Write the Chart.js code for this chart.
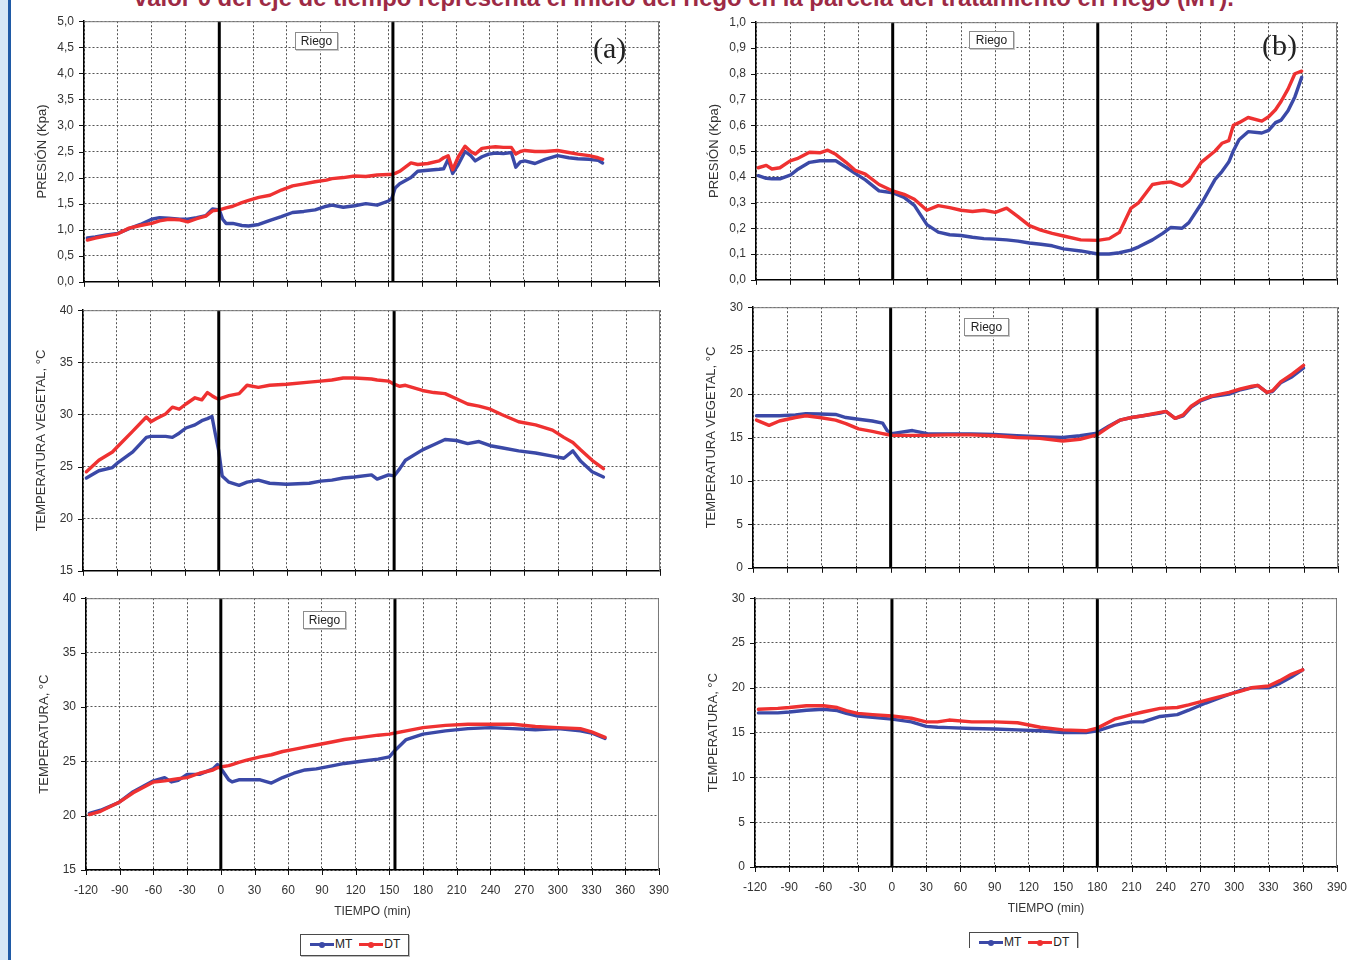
<!DOCTYPE html>
<html lang="es">
<head>
<meta charset="utf-8">
<title>Presión y temperatura - MT / DT</title>
<script src="https://cdn.jsdelivr.net/npm/chart.js@4.4.1/dist/chart.umd.min.js"></script>
<style>
  body { margin: 0; width: 1354px; height: 960px; position: relative; overflow: hidden; background: #fff; font-family: Arial, "Liberation Sans", sans-serif; }
  canvas { position: absolute; }
  .strip { position: absolute; left: 0; top: 0; width: 8px; height: 960px; background: #d6e7f7; border-right: 3px solid #1f5aa6; }
  #headline { position: absolute; left: 134px; top: -14px; white-space: nowrap; color: #9d2a45; font: bold 24px/24px Arial, "Liberation Sans", sans-serif; }
  .riego { position: absolute; z-index: 2; box-sizing: border-box; height: 18px; background: #fff; border: 1px solid #8c8c8c; box-shadow: 1px 1px 0 #c8c8c8; font: 12px/16px Arial, sans-serif; color: #222; text-align: center; }
  .tag { position: absolute; z-index: 2; font: 30px/30px "Liberation Serif", serif; color: #222; }
  .legend { position: absolute; z-index: 2; box-sizing: border-box; width: 109px; height: 22px; background: #fff; border: 1.5px solid #4a4a4a; box-shadow: 1px 1px 0 #bbb; font: 12px/19px Arial, sans-serif; color: #222; padding-left: 9px; white-space: nowrap; }
  .clip { position: absolute; z-index: 2; overflow: hidden; }
  .sw { display: inline-block; vertical-align: middle; width: 24px; height: 3px; position: relative; margin-right: 1px; }
  .sw::after { content: ''; position: absolute; left: 9px; top: -1.5px; width: 6px; height: 6px; border-radius: 50%; background: inherit; }
  .sw.mt { background: #3b49a7; }
  .sw.dt { background: #ef3131; margin-left: 7px; }
</style>
</head>
<body>
<div class="strip"></div>
<div id="headline">valor 0 del eje de tiempo representa el inicio del riego en la parcela del tratamiento en riego (MT).</div>

<div class="riego" style="left:295px;top:32px;width:43px">Riego</div>
<div class="riego" style="left:303px;top:611px;width:43px">Riego</div>
<div class="riego" style="left:969px;top:31px;width:45px">Riego</div>
<div class="riego" style="left:964px;top:318px;width:45px">Riego</div>

<div class="tag" style="left:593px;top:33px">(a)</div>
<div class="tag" style="left:1262px;top:30px">(b)</div>

<div class="legend" style="left:300px;top:934px"><i class="sw mt"></i>MT<i class="sw dt"></i>DT</div>
<div class="clip" style="left:969px;top:932px;width:112px;height:16px">
  <div class="legend" style="left:0;top:0"><i class="sw mt"></i>MT<i class="sw dt"></i>DT</div>
</div>

<script>
// (a) presión, left column
const tA1 = [-117,-110,-100,-90,-80,-70,-60,-53,-45,-35,-28,-20,-12,-6,0,3,6,12,20,26,35,45,55,65,75,85,95,100,110,120,130,140,150,153,156,160,170,176,185,195,199,203,207,212,218,223,227,233,239,245,252,259,263,267,271,280,289,300,310,318,328,336,340]
const mtA1 = [0.84,0.86,0.90,0.93,1.02,1.10,1.20,1.23,1.22,1.20,1.20,1.23,1.27,1.40,1.38,1.20,1.12,1.12,1.08,1.07,1.10,1.18,1.25,1.33,1.35,1.38,1.45,1.47,1.43,1.46,1.50,1.47,1.55,1.60,1.80,1.88,2.00,2.12,2.14,2.16,2.17,2.35,2.08,2.25,2.50,2.42,2.32,2.40,2.45,2.47,2.46,2.48,2.20,2.30,2.32,2.27,2.35,2.42,2.38,2.36,2.35,2.33,2.28]
const dtA1 = [0.80,0.84,0.88,0.92,1.03,1.08,1.12,1.17,1.20,1.19,1.15,1.21,1.26,1.36,1.38,1.40,1.42,1.45,1.52,1.56,1.62,1.66,1.76,1.84,1.88,1.92,1.95,1.98,2.00,2.03,2.02,2.05,2.06,2.06,2.08,2.12,2.28,2.25,2.27,2.32,2.38,2.42,2.15,2.40,2.60,2.50,2.45,2.56,2.58,2.59,2.58,2.58,2.45,2.50,2.52,2.50,2.50,2.52,2.48,2.45,2.42,2.38,2.35]

// (a) temperatura vegetal
const tA2 = [-117,-106,-94,-90,-76,-64,-60,-55,-47,-41,-35,-29,-21,-15,-10,-6,-3,0,3,9,18,25,35,45,60,80,90,100,110,120,135,140,150,155,160,165,180,190,200,210,220,230,240,250,265,280,295,305,313,320,330,340]
const mtA2 = [23.9,24.6,24.9,25.3,26.4,27.8,27.9,27.9,27.9,27.8,28.2,28.7,29.0,29.4,29.6,29.8,28.1,26.5,24.1,23.5,23.2,23.5,23.7,23.4,23.3,23.4,23.6,23.7,23.9,24.0,24.2,23.8,24.2,24.1,24.8,25.6,26.6,27.1,27.6,27.5,27.2,27.4,27.0,26.8,26.5,26.3,26.0,25.8,26.5,25.5,24.5,24.0]
const dtA2 = [24.5,25.6,26.4,26.85,28.4,29.75,29.3,29.6,30.05,30.7,30.5,31.0,31.6,31.4,32.1,31.8,31.6,31.45,31.6,31.8,32.0,32.8,32.6,32.8,32.9,33.1,33.2,33.3,33.5,33.5,33.4,33.3,33.2,32.9,32.7,32.8,32.3,32.1,32.0,31.5,31.0,30.8,30.5,30.0,29.3,29.0,28.5,27.8,27.3,26.6,25.6,24.8]

// (a) temperatura
const tA3 = [-117,-107,-91,-78,-60,-50,-44,-38,-30,-19,-7,-3,1,7,10,16,23,35,45,55,65,75,85,100,110,125,140,150,155,165,180,200,220,240,260,280,300,320,330,342]
const mtA3 = [20.2,20.5,21.2,22.2,23.2,23.5,23.1,23.25,23.8,23.8,24.3,24.7,24.2,23.3,23.1,23.3,23.3,23.3,23.0,23.5,23.9,24.2,24.3,24.6,24.8,25.0,25.2,25.4,26.0,27.0,27.5,27.8,28.0,28.1,28.0,27.9,28.0,27.8,27.6,27.1]
const dtA3 = [20.1,20.4,21.2,22.1,23.1,23.2,23.3,23.4,23.5,23.9,24.2,24.4,24.5,24.6,24.7,24.9,25.1,25.4,25.6,25.9,26.1,26.3,26.5,26.8,27.0,27.2,27.4,27.5,27.6,27.8,28.1,28.3,28.4,28.4,28.4,28.2,28.1,28.0,27.7,27.2]

// (b) presión, right column
const tB1 = [-118,-111,-106,-99,-90,-84,-73,-64,-57,-50,-41,-33,-24,-12,0,10,19,30,40,50,60,70,80,90,100,110,120,130,140,150,165,180,190,199,209,216,228,237,244,254,260,271,283,289,295,299,304,312,324,330,336,341,347,353,359]
const mtB1 = [0.404,0.394,0.392,0.392,0.406,0.427,0.456,0.462,0.462,0.462,0.437,0.413,0.388,0.345,0.338,0.32,0.289,0.214,0.185,0.175,0.172,0.165,0.16,0.158,0.155,0.15,0.143,0.138,0.132,0.12,0.112,0.10,0.10,0.105,0.115,0.128,0.155,0.18,0.203,0.20,0.222,0.296,0.39,0.42,0.457,0.50,0.544,0.575,0.57,0.58,0.61,0.62,0.656,0.71,0.786]
const dtB1 = [0.435,0.444,0.43,0.435,0.462,0.47,0.495,0.493,0.503,0.487,0.456,0.425,0.41,0.37,0.345,0.332,0.313,0.27,0.288,0.28,0.27,0.265,0.27,0.262,0.278,0.245,0.21,0.193,0.18,0.17,0.155,0.153,0.16,0.184,0.277,0.30,0.37,0.377,0.38,0.364,0.383,0.457,0.50,0.53,0.54,0.60,0.61,0.63,0.616,0.633,0.66,0.693,0.74,0.80,0.81]

// (b) temperatura vegetal
const tB2 = [-117,-106,-97,-83,-74,-62,-48,-39,-28,-16,-7,-3,1,19,32,50,70,90,110,130,150,165,180,190,200,210,220,235,240,248,255,262,270,280,295,305,315,320,328,333,340,350,360]
const mtB2 = [17.5,17.5,17.5,17.6,17.75,17.7,17.65,17.3,17.1,16.9,16.65,15.8,15.45,15.8,15.45,15.4,15.4,15.35,15.2,15.1,15.0,15.2,15.5,16.3,17.0,17.3,17.5,17.8,18.0,17.2,17.5,18.5,19.2,19.7,20.0,20.5,20.8,21.0,20.2,20.3,21.3,22.0,23.0]
const dtB2 = [17.0,16.4,16.9,17.3,17.5,17.3,17.0,16.6,16.0,15.7,15.45,15.35,15.25,15.25,15.25,15.3,15.3,15.2,15.0,14.9,14.6,14.8,15.3,16.2,17.0,17.3,17.5,17.9,18.0,17.2,17.6,18.6,19.3,19.8,20.2,20.6,20.9,21.0,20.2,20.4,21.4,22.3,23.3]

// (b) temperatura
const tB3 = [-117,-100,-90,-75,-60,-48,-40,-30,-17,0,17,30,40,50,70,90,110,130,150,170,180,195,210,220,235,250,260,275,290,305,315,330,340,350,360]
const mtB3 = [17.2,17.2,17.3,17.5,17.6,17.45,17.15,16.85,16.7,16.5,16.2,15.7,15.6,15.55,15.45,15.4,15.3,15.2,15.0,15.0,15.2,15.8,16.2,16.2,16.8,17.0,17.5,18.3,19.0,19.7,20.0,20.0,20.5,21.2,22.0]
const dtB3 = [17.6,17.7,17.8,18.0,18.0,17.8,17.45,17.15,17.0,16.85,16.6,16.2,16.2,16.4,16.2,16.2,16.1,15.6,15.3,15.2,15.5,16.5,17.0,17.3,17.7,17.8,18.1,18.6,19.1,19.6,20.0,20.2,20.8,21.5,22.0]

// start / end of irrigation (min)
const riegoA1 = [0, 154]
const riegoA2 = [0, 155]
const riegoA3 = [0, 155]
const riegoB = [0, 180]

const BLUE = '#3b49a7'
const RED = '#ef3131'

Chart.defaults.font.family = 'Arial, "Liberation Sans", sans-serif'
Chart.defaults.color = '#333'

// stretch the headline to the width it has in the page
const headline = document.getElementById('headline')
headline.style.fontSize = (24 * 1101 / headline.offsetWidth).toFixed(2) + 'px'

function seriesPoints(times, values) {
    return times.map((t, i) => ({ x: t, y: values[i] }))
}

function riegoPoints(marks, yMin, yMax) {
    return [
        { x: marks[0], y: yMin }, { x: marks[0], y: yMax }, { x: marks[0], y: null },
        { x: marks[1], y: yMax }, { x: marks[1], y: yMin }
    ]
}

// gray top/right frame plus small outside tick marks (Excel look)
const framePlugin = {
    id: 'frame',
    afterDraw(chart) {
        const { ctx, chartArea: a, scales: { x, y } } = chart
        ctx.save()
        ctx.strokeStyle = '#7a7a7a'
        ctx.lineWidth = 1
        ctx.beginPath()
        ctx.moveTo(a.left, a.top + 0.5)
        ctx.lineTo(a.right - 0.5, a.top + 0.5)
        ctx.lineTo(a.right - 0.5, a.bottom)
        ctx.stroke()

        ctx.strokeStyle = '#111'
        ctx.beginPath()
        x.ticks.forEach(t => {
            const px = Math.round(x.getPixelForValue(t.value)) + 0.5
            ctx.moveTo(px, a.bottom - 2)
            ctx.lineTo(px, a.bottom + 5)
        })
        y.ticks.forEach(t => {
            const py = Math.round(y.getPixelForValue(t.value)) + 0.5
            ctx.moveTo(a.left - 5, py)
            ctx.lineTo(a.left, py)
        })
        ctx.stroke()
        ctx.restore()
    }
}

function drawPanel(p) {
    const [left, top, right, bottom] = p.plot
    const axisW = 75, padTop = 12, padRight = 20
    const extraTop = 5 // chart.js keeps this much more room above the plot
    const axisH = p.showTime ? 50 : 6

    const canvas = document.createElement('canvas')
    canvas.width = right - left + axisW + padRight
    canvas.height = bottom - top + padTop + extraTop + axisH
    canvas.style.left = (left - axisW) + 'px'
    canvas.style.top = (top - padTop - extraTop) + 'px'
    document.body.appendChild(canvas)

    const grid = { color: '#555', lineWidth: 1, drawTicks: false }
    const border = { display: true, color: '#000', width: 1.5, dash: [2, 2] }
    const seriesStyle = { borderWidth: 3.4, pointRadius: 0, borderJoinStyle: 'round', borderCapStyle: 'round' }

    new Chart(canvas, {
        type: 'line',
        data: {
            datasets: [
                { label: 'Riego', data: riegoPoints(p.riego, p.yMin, p.yMax), borderColor: '#000', borderWidth: 3, pointRadius: 0 },
                { label: 'DT', data: seriesPoints(p.t, p.dt), borderColor: RED, backgroundColor: RED, ...seriesStyle },
                { label: 'MT', data: seriesPoints(p.t, p.mt), borderColor: BLUE, backgroundColor: BLUE, ...seriesStyle }
            ]
        },
        options: {
            responsive: false,
            animation: false,
            devicePixelRatio: 1,
            layout: { padding: { top: padTop, right: padRight, left: 0, bottom: 0 } },
            plugins: { legend: { display: false }, tooltip: { enabled: false } },
            elements: { line: { tension: 0 } },
            scales: {
                x: {
                    type: 'linear', min: -120, max: 390,
                    afterFit: s => { s.height = axisH },
                    ticks: { display: p.showTime, stepSize: 30, autoSkip: false, maxRotation: 0, padding: 13, font: { size: 12 }, color: '#333' },
                    grid: grid,
                    border: border,
                    title: { display: p.showTime, text: 'TIEMPO (min)', font: { size: 12 }, color: '#333', padding: { top: 0, bottom: 1 } }
                },
                y: {
                    min: p.yMin, max: p.yMax,
                    afterFit: s => { s.width = axisW },
                    ticks: {
                        stepSize: p.yStep, padding: 10, font: { size: 12 }, color: '#333',
                        callback: v => p.yDec ? Number(v).toFixed(p.yDec).replace('.', ',') : v
                    },
                    grid: grid,
                    border: border,
                    title: { display: true, text: p.yTitle, font: { size: 13 }, color: '#333', padding: { top: 26, bottom: 0 } }
                }
            }
        },
        plugins: [framePlugin]
    })
}

drawPanel({ plot: [84, 21, 659, 293], t: tA1, mt: mtA1, dt: dtA1, riego: riegoA1, yMin: 0, yMax: 5, yStep: 0.5, yDec: 1, yTitle: 'PRESIÓN (Kpa)', showTime: false })
drawPanel({ plot: [83, 310, 660, 582], t: tA2, mt: mtA2, dt: dtA2, riego: riegoA2, yMin: 15, yMax: 40, yStep: 5, yDec: 0, yTitle: 'TEMPERATURA VEGETAL, °C', showTime: false })
drawPanel({ plot: [86, 598, 662, 870], t: tA3, mt: mtA3, dt: dtA3, riego: riegoA3, yMin: 15, yMax: 40, yStep: 5, yDec: 0, yTitle: 'TEMPERATURA, °C', showTime: true })
drawPanel({ plot: [756, 22, 1337, 291], t: tB1, mt: mtB1, dt: dtB1, riego: riegoB, yMin: 0, yMax: 1, yStep: 0.1, yDec: 1, yTitle: 'PRESIÓN (Kpa)', showTime: false })
drawPanel({ plot: [753, 307, 1338, 579], t: tB2, mt: mtB2, dt: dtB2, riego: riegoB, yMin: 0, yMax: 30, yStep: 5, yDec: 0, yTitle: 'TEMPERATURA VEGETAL, °C', showTime: false })
drawPanel({ plot: [755, 598, 1340, 867], t: tB3, mt: mtB3, dt: dtB3, riego: riegoB, yMin: 0, yMax: 30, yStep: 5, yDec: 0, yTitle: 'TEMPERATURA, °C', showTime: true })
</script>
</body>
</html>
